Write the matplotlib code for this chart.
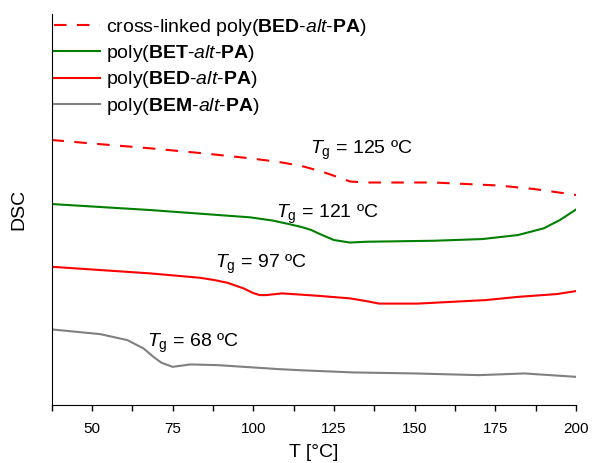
import matplotlib.pyplot as plt
import numpy as np

plt.rcParams['font.family'] = ['Liberation Sans', 'DejaVu Sans']
plt.rcParams['mathtext.fontset'] = 'custom'
plt.rcParams['mathtext.rm'] = 'Liberation Sans'
plt.rcParams['mathtext.it'] = 'Liberation Sans:italic'
plt.rcParams['mathtext.bf'] = 'Liberation Sans:bold'

# Data (DSC signal in arbitrary units)
t_xl = [37.5, 50, 68, 85, 99, 108, 115, 120, 123, 127, 130, 135, 156, 176, 187, 198, 200]
dsc_xl = [264.5, 261, 256.2, 251, 246.2, 242.5, 238.5, 234, 231, 226.5, 223, 222, 222,
          219, 215.5, 210.5, 209.5]

t_bet = [37.5, 68, 99, 106, 111, 115, 118, 121, 125, 130, 135, 156, 171, 182, 190, 195, 200]
dsc_bet = [200.5, 194.5, 187.2, 184, 180.5, 177.5, 174.5, 170, 164.5, 162, 162.8, 163.8,
           165.5, 169.5, 176.2, 184.5, 195]

t_bed = [37.5, 68, 83.5, 88, 92, 97, 100, 102, 104, 109, 120, 130, 135, 139, 151, 172,
         182, 194, 200]
dsc_bed = [137.8, 131.2, 126.8, 124.5, 121.8, 116.2, 111.5, 109.5, 109.5, 111.2, 108.8,
           106.2, 103.5, 101, 101, 104.5, 107.7, 110.5, 113.5]

t_bem = [37.5, 52.6, 61, 66, 69, 71.5, 75, 80.5, 89, 108, 114, 131, 150, 170, 184, 200]
dsc_bem = [75.2, 70.5, 64.5, 56.2, 48, 42, 37.8, 40.2, 39.5, 35.5, 34.5, 32.2, 31.2, 29.5,
           31.2, 27.8]

labels = ['cross-linked poly($\\mathbf{BED}$-$\\mathit{alt}$-$\\mathbf{PA}$)',
          'poly($\\mathbf{BET}$-$\\mathit{alt}$-$\\mathbf{PA}$)',
          'poly($\\mathbf{BED}$-$\\mathit{alt}$-$\\mathbf{PA}$)',
          'poly($\\mathbf{BEM}$-$\\mathit{alt}$-$\\mathbf{PA}$)']

tg_text = ['$T_\\mathrm{g}$ = 125 ºC', '$T_\\mathrm{g}$ = 121 ºC',
           '$T_\\mathrm{g}$ = 97 ºC', '$T_\\mathrm{g}$ = 68 ºC']
tg_pos = [(117.5, 254), (107, 190), (88, 140), (67, 61)]

fig = plt.figure(figsize=(5.92, 4.63), dpi=100)
ax = fig.add_axes([0.087, 0.126, 0.886, 0.844])

ax.plot(t_xl, dsc_xl, color='#ff0000', lw=1.5, dashes=(6, 5), label=labels[0])
ax.plot(t_bet, dsc_bet, color='#008000', lw=1.5, label=labels[1])
ax.plot(t_bed, dsc_bed, color='#ff0000', lw=1.5, label=labels[2])
ax.plot(t_bem, dsc_bem, color='#808080', lw=1.5, label=labels[3])

for txt, (x, y) in zip(tg_text, tg_pos):
    ax.text(x, y, txt, fontsize=14, ha='left', va='center')

ax.set_xlim(37.5, 200)
ax.set_ylim(0, 390.5)
ax.set_xticks([50, 75, 100, 125, 150, 175, 200])
ax.set_xticks(np.arange(37.5, 201, 12.5), minor=True)
ax.tick_params(axis='x', which='both', direction='out', length=4, width=1,
               labelsize=11, pad=8.5)
ax.set_yticks([])
ax.spines['top'].set_visible(False)
ax.spines['right'].set_visible(False)
ax.set_xlabel('T [°C]', fontsize=14, labelpad=6)
ax.set_ylabel('DSC', fontsize=14, labelpad=17.5)

ax.legend(loc='upper left', bbox_to_anchor=(54 / 592, 1 - 17 / 463),
          bbox_transform=fig.transFigure, frameon=False, fontsize=14,
          handlelength=2.37, handletextpad=0.3, labelspacing=0.27,
          borderpad=0, borderaxespad=0)

plt.savefig('out.png', dpi=100)
